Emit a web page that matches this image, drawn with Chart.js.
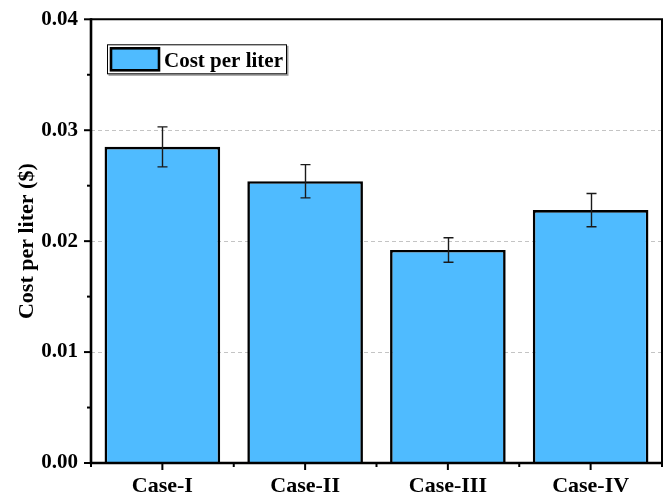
<!DOCTYPE html>
<html>
<head>
<meta charset="utf-8">
<script src="https://cdn.jsdelivr.net/npm/chart.js@4/dist/chart.umd.min.js"></script>
<style>
  html, body { margin: 0; padding: 0; background: #ffffff; }
  #wrap { width: 669px; height: 496px; position: relative; }
</style>
</head>
<body>
<div id="wrap"><canvas id="chart" width="669" height="496"></canvas></div>
<script>
// Cost per liter for each case, with symmetric error bars
const categories = ['Case-I', 'Case-II', 'Case-III', 'Case-IV'];
const costPerLiter = [0.0285, 0.0254, 0.0192, 0.0228];
const costError = [0.0018, 0.0015, 0.0011, 0.0015];
const yTickValues = [0.00, 0.01, 0.02, 0.03, 0.04];
const seriesLabel = 'Cost per liter';
const yAxisTitle = 'Cost per liter ($)';

const FONT = '"Liberation Serif", "Times New Roman", serif';
const BAR_FILL = '#4FBBFF';

// Dashed horizontal grid lines behind the bars
const gridPlugin = {
  id: 'dashedGrid',
  beforeDatasetsDraw(chart) {
    const { ctx, chartArea: a, scales: { y } } = chart;
    ctx.save();
    ctx.strokeStyle = '#c4c4c4';
    ctx.lineWidth = 1;
    ctx.setLineDash([4, 3]);
    yTickValues.forEach(v => {
      if (v <= y.min || v >= y.max) return;
      const py = Math.round(y.getPixelForValue(v)) + 0.5;
      ctx.beginPath();
      ctx.moveTo(a.left, py);
      ctx.lineTo(a.right, py);
      ctx.stroke();
    });
    ctx.restore();
  }
};

// Error bars with caps on each bar
const errorBarPlugin = {
  id: 'errorBars',
  afterDatasetsDraw(chart) {
    const { ctx, scales: { y } } = chart;
    const meta = chart.getDatasetMeta(0);
    ctx.save();
    ctx.strokeStyle = '#1a1a1a';
    ctx.lineWidth = 1.4;
    meta.data.forEach((bar, i) => {
      const v = costPerLiter[i], e = costError[i];
      const yTop = y.getPixelForValue(v + e);
      const yBot = y.getPixelForValue(v - e);
      const x = Math.round(bar.x) + 0.5;
      const cap = 5;
      ctx.beginPath();
      ctx.moveTo(x, yTop); ctx.lineTo(x, yBot);
      ctx.moveTo(x - cap, yTop); ctx.lineTo(x + cap, yTop);
      ctx.moveTo(x - cap, yBot); ctx.lineTo(x + cap, yBot);
      ctx.stroke();
    });
    ctx.restore();
  }
};

// Axes frame, major/minor tick marks and legend box
const framePlugin = {
  id: 'frameAndLegend',
  afterDatasetsDraw(chart) {
    const { ctx, chartArea: a, scales: { x, y } } = chart;
    ctx.save();
    ctx.strokeStyle = '#000';
    ctx.setLineDash([]);

    // top and right frame
    ctx.lineWidth = 2;
    ctx.beginPath();
    ctx.moveTo(a.left, a.top); ctx.lineTo(a.right, a.top); ctx.lineTo(a.right, a.bottom);
    ctx.stroke();

    // left and bottom axes
    ctx.lineWidth = 2.6;
    ctx.beginPath();
    ctx.moveTo(a.left, a.top - 1); ctx.lineTo(a.left, a.bottom); ctx.lineTo(a.right + 1, a.bottom);
    ctx.stroke();

    // y ticks: major at labels, minor halfway
    ctx.lineWidth = 2;
    yTickValues.forEach((v, i) => {
      const py = y.getPixelForValue(v);
      ctx.beginPath(); ctx.moveTo(a.left - 7, py); ctx.lineTo(a.left, py); ctx.stroke();
      if (i < yTickValues.length - 1) {
        const pm = y.getPixelForValue((v + yTickValues[i + 1]) / 2);
        ctx.beginPath(); ctx.moveTo(a.left - 4, pm); ctx.lineTo(a.left, pm); ctx.stroke();
      }
    });

    // x ticks: major at category centres, minor at boundaries
    const step = (a.right - a.left) / categories.length;
    categories.forEach((c, i) => {
      const px = x.getPixelForValue(i);
      ctx.beginPath(); ctx.moveTo(px, a.bottom); ctx.lineTo(px, a.bottom + 7); ctx.stroke();
    });
    for (let i = 0; i <= categories.length; i++) {
      const px = a.left + step * i;
      ctx.beginPath(); ctx.moveTo(px, a.bottom); ctx.lineTo(px, a.bottom + 4); ctx.stroke();
    }

    // legend box
    const lx = a.left + 16, ly = a.top + 25, lw = 180, lh = 30;
    ctx.fillStyle = '#9a9a9a';
    ctx.fillRect(lx + 1.5, ly + 1.5, lw, lh);
    ctx.fillStyle = '#ffffff';
    ctx.fillRect(lx, ly, lw, lh);
    ctx.lineWidth = 1;
    ctx.strokeStyle = '#000';
    ctx.strokeRect(lx + 0.5, ly + 0.5, lw - 1, lh - 1);

    // legend swatch
    ctx.fillStyle = BAR_FILL;
    ctx.fillRect(lx + 4, ly + 4, 48, 22);
    ctx.lineWidth = 2.6;
    ctx.strokeRect(lx + 4, ly + 4, 48, 22);

    ctx.fillStyle = '#000';
    ctx.font = 'bold 21px ' + FONT;
    ctx.textBaseline = 'alphabetic';
    ctx.textAlign = 'left';
    ctx.fillText(chart.data.datasets[0].label, lx + 57, ly + 23);
    ctx.restore();
  }
};

new Chart(document.getElementById('chart'), {
  type: 'bar',
  data: {
    labels: categories,
    datasets: [{
      label: seriesLabel,
      data: costPerLiter,
      backgroundColor: BAR_FILL,
      borderColor: '#000000',
      borderWidth: 2.6,
      borderSkipped: 'start',
      categoryPercentage: 1.0,
      barPercentage: 0.81
    }]
  },
  options: {
    responsive: false,
    animation: false,
    devicePixelRatio: 1,
    layout: { padding: { left: 0, right: 7, top: 19, bottom: 0 } },
    plugins: {
      legend: { display: false },
      tooltip: { enabled: false }
    },
    scales: {
      x: {
        grid: { display: false, drawTicks: false },
        border: { display: false },
        ticks: {
          color: '#000',
          padding: 10,
          font: { family: FONT, size: 22, weight: 'bold' }
        },
        afterFit(scale) { scale.height = 33; }
      },
      y: {
        min: 0,
        max: 0.04,
        grid: { display: false, drawTicks: false },
        border: { display: false },
        afterBuildTicks(scale) { scale.ticks = yTickValues.map(v => ({ value: v })); },
        ticks: {
          color: '#000',
          padding: 13,
          font: { family: FONT, size: 21, weight: 'bold', lineHeight: 0.6 },
          callback: v => Number(v).toFixed(2)
        },
        title: {
          display: true,
          text: yAxisTitle,
          color: '#000',
          padding: { top: 14, bottom: 0 },
          font: { family: FONT, size: 22, weight: 'bold' }
        },
        afterFit(scale) { scale.width = 91; }
      }
    }
  },
  plugins: [gridPlugin, errorBarPlugin, framePlugin]
});
</script>
</body>
</html>
